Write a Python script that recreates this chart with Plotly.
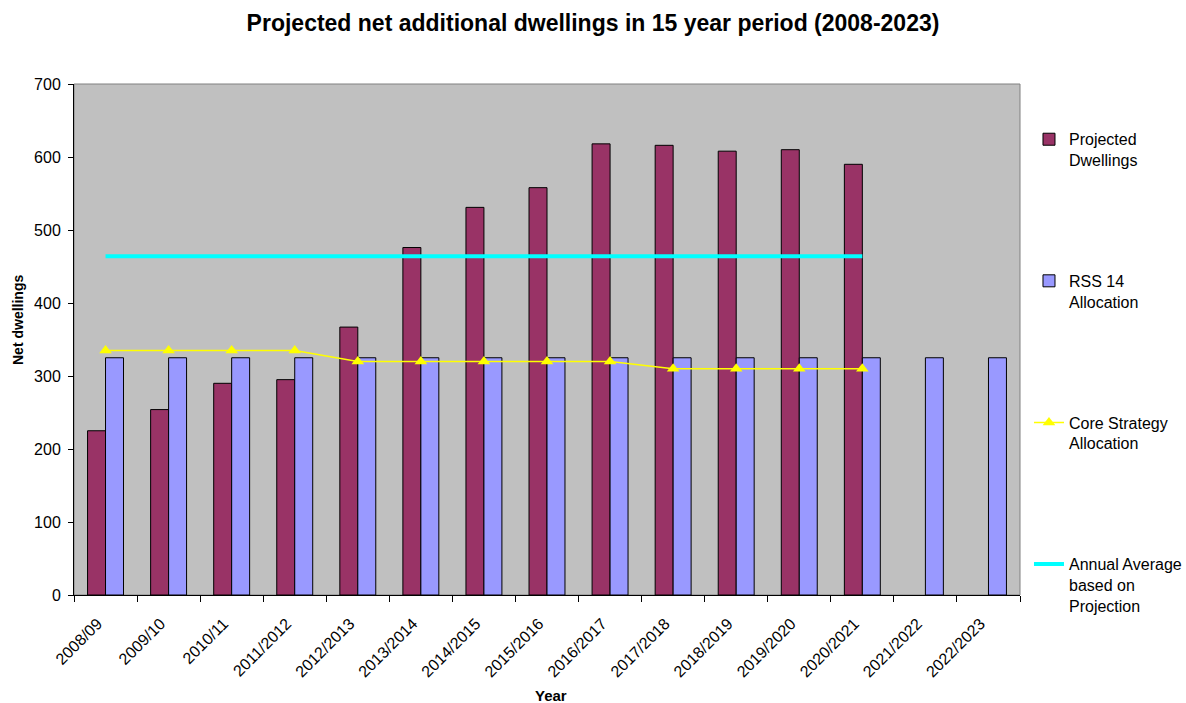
import plotly.graph_objects as go

years = ["2008/09", "2009/10", "2010/11", "2011/2012", "2012/2013", "2013/2014",
         "2014/2015", "2015/2016", "2016/2017", "2017/2018", "2018/2019",
         "2019/2020", "2020/2021", "2021/2022", "2022/2023"]
projected = [225, 254, 290, 295, 367, 476, 531, 558, 618, 616, 608, 610, 590, None, None]
rss14 = [325] * 15
core_strategy = [335, 335, 335, 335, 320, 320, 320, 320, 320, 310, 310, 310, 310, None, None]
annual_average = [464] * 13 + [None, None]

FONT = "Liberation Sans, Arial, sans-serif"

fig = go.Figure()
fig.add_trace(go.Bar(
    x=years, y=projected, name="Projected<br>Dwellings",
    marker=dict(color="#993366", line=dict(color="#000000", width=1)),
    legendgroup="a",
))
fig.add_trace(go.Bar(
    x=years, y=rss14, name="RSS 14<br>Allocation",
    marker=dict(color="#9999FF", line=dict(color="#000000", width=1)),
    legendgroup="b",
))
fig.add_trace(go.Scatter(
    x=years, y=core_strategy, name="Core Strategy<br>Allocation",
    mode="lines+markers",
    line=dict(color="#FFFF00", width=1.5),
    marker=dict(symbol="triangle-up", size=11, color="#FFFF00"),
    legendgroup="c",
))
fig.add_trace(go.Scatter(
    x=years, y=annual_average, name="Annual Average<br>based on<br>Projection",
    mode="lines",
    line=dict(color="#00FFFF", width=4),
    legendgroup="d",
))

fig.update_layout(
    width=1186, height=703,
    margin=dict(l=74, r=166, t=84, b=108, autoexpand=False),
    paper_bgcolor="#FFFFFF",
    plot_bgcolor="#C0C0C0",
    font=dict(family=FONT, color="#000000", size=15),
    title=dict(
        text="<b>Projected net additional dwellings in 15 year period (2008-2023)</b>",
        x=0.5, xanchor="center", xref="container",
        y=1 - 23 / 703, yanchor="middle",
        font=dict(family=FONT, size=23, color="#000000"),
    ),
    barmode="group",
    bargap=0.43,
    bargroupgap=0,
    showlegend=True,
    legend=dict(
        x=1.0095, xanchor="left",
        y=0.925, yanchor="top",
        font=dict(family=FONT, size=16, color="#000000"),
        tracegroupgap=97,
        valign="top",
        bgcolor="rgba(0,0,0,0)",
        traceorder="grouped",
    ),
    xaxis=dict(
        type="category",
        range=[-0.5, 14.5],
        tickson="boundaries",
        ticks="outside", ticklen=6, tickcolor="#000000", tickwidth=1,
        showline=True, linecolor="#000000", linewidth=1,
        showgrid=False, zeroline=False,
        tickangle=-45,
        tickfont=dict(family=FONT, size=16, color="#000000"),
        ticklabelstandoff=12,
        ticklabelshift=-8,
    ),
    yaxis=dict(
        range=[0, 700],
        tickmode="linear", tick0=0, dtick=100,
        ticks="outside", ticklen=5, tickcolor="#000000", tickwidth=1,
        showline=True, linecolor="#000000", linewidth=1,
        showgrid=False, zeroline=False,
        tickfont=dict(family=FONT, size=16, color="#000000"),
        ticklabelstandoff=4,
    ),
    annotations=[
        dict(
            text="<b>Net dwellings</b>", textangle=-90,
            xref="paper", yref="paper",
            x=-56 / 946, y=(595 - 320) / 511, xanchor="center", yanchor="middle",
            showarrow=False,
            font=dict(family=FONT, size=14, color="#000000"),
        ),
        dict(
            text="<b>Year</b>",
            xref="paper", yref="paper",
            x=(551 - 74) / 946, y=(595 - 695) / 511, xanchor="center", yanchor="middle",
            showarrow=False,
            font=dict(family=FONT, size=15, color="#000000"),
        ),
    ],
    shapes=[
        dict(type="rect", xref="paper", yref="paper", x0=0, x1=1, y0=0, y1=1,
             line=dict(color="#808080", width=1), layer="below"),
    ],
)

fig.write_html("out.html")
